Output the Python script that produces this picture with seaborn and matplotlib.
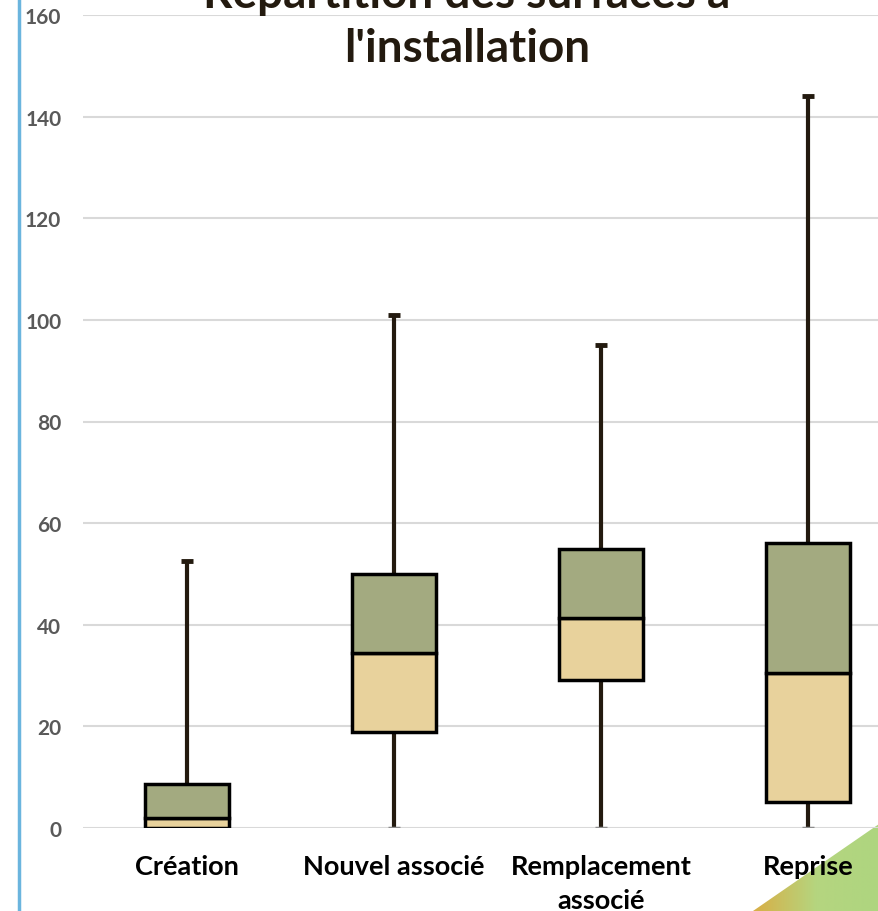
import numpy as np
import seaborn as sns
import matplotlib.pyplot as plt
from matplotlib.lines import Line2D
from matplotlib.patches import Polygon

sns.set_theme(style="white")
plt.rcParams["font.family"] = ["Lato", "DejaVu Sans"]

# Données
categories = ["Création", "Nouvel associé", "Remplacement\nassocié", "Reprise"]
v_min = [0, 0, 0, 0]
q1 = [0, 18.9, 29.1, 5.2]
median = [2.0, 34.4, 41.3, 30.6]
q3 = [8.7, 50.0, 55.0, 56.0]
v_max = [52.5, 101.0, 95.0, 144.0]
yticks = [0, 20, 40, 60, 80, 100, 120, 140, 160]

W, H = 879, 912
fig = plt.figure(figsize=(W / 100, H / 100), dpi=100)
fig.patch.set_facecolor("white")
ax = fig.add_axes([83.5 / W, 1 - 829 / H, 828 / W, 813 / H])
ax.patch.set_alpha(0)
ax.set_zorder(2)

x = np.arange(len(categories))
low = np.array(median) - np.array(q1)
high = np.array(q3) - np.array(median)

# whiskers
ax.vlines(x, q3, v_max, color="#231A0F", lw=3, zorder=2)
ax.vlines(x, v_min, q1, color="#231A0F", lw=3, zorder=2)
ax.hlines(v_max, x - 0.03, x + 0.03, color="#231A0F", lw=3.5, zorder=2)
ax.hlines(v_min, x - 0.03, x + 0.03, color="#8C8C8C", lw=2.5, zorder=2)

# box segments
ax.bar(x, low, bottom=q1, width=0.405, color="#E8D29C", edgecolor="black", lw=2.5, zorder=3)
ax.bar(x, high, bottom=median, width=0.405, color="#A3AA80", edgecolor="black", lw=2.5, zorder=3)

ax.set_xlim(-0.5, len(categories) - 0.5)
ax.set_ylim(0, 160)
ax.set_yticks(yticks)
ax.set_yticklabels([str(t) for t in yticks], fontsize=15, fontweight="bold", color="#595959")
ax.set_xticks(x)
ax.set_xticklabels(categories, fontsize=19.5, fontweight="bold", color="black", linespacing=1.5)
ax.tick_params(axis="y", length=0, pad=16)
ax.tick_params(axis="x", length=0, pad=19)
ax.yaxis.grid(True, color="#D9D9D9", lw=1.5)
ax.set_axisbelow(True)
for s in ax.spines.values():
    s.set_visible(False)

# titre (coupé en haut comme sur l'image)
fig.text(467 / W, 1 - 8 / H, "Répartition des surfaces à", ha="center", va="baseline",
         fontsize=33, fontweight="bold", color="#231A0F")
fig.text(467 / W, 1 - 62 / H, "l'installation", ha="center", va="baseline",
         fontsize=33, fontweight="bold", color="#231A0F")

# bord bleu à gauche
fig.add_artist(Line2D([19 / W, 19 / W], [0, 1], color="#6BB5DE", lw=2.5))

# triangle décoratif en bas à droite (derrière les textes)
tri = Polygon([[753 / W, 0], [1, 0], [1, (H - 825) / H]], closed=True,
              transform=fig.transFigure, facecolor="none", edgecolor="none")
grad = np.linspace(0, 1, 256).reshape(1, -1)
bg = fig.add_axes([753 / W, 0, 1 - 753 / W, (H - 825) / H])
bg.set_zorder(0)
bg.axis("off")
im = bg.imshow(grad, cmap=sns.blend_palette(["#D9AE45", "#B5D57F", "#AED580"], as_cmap=True),
               aspect="auto", extent=[0, 1, 0, 1])
im.set_clip_path(tri)

fig.savefig("out.png", dpi=100)
